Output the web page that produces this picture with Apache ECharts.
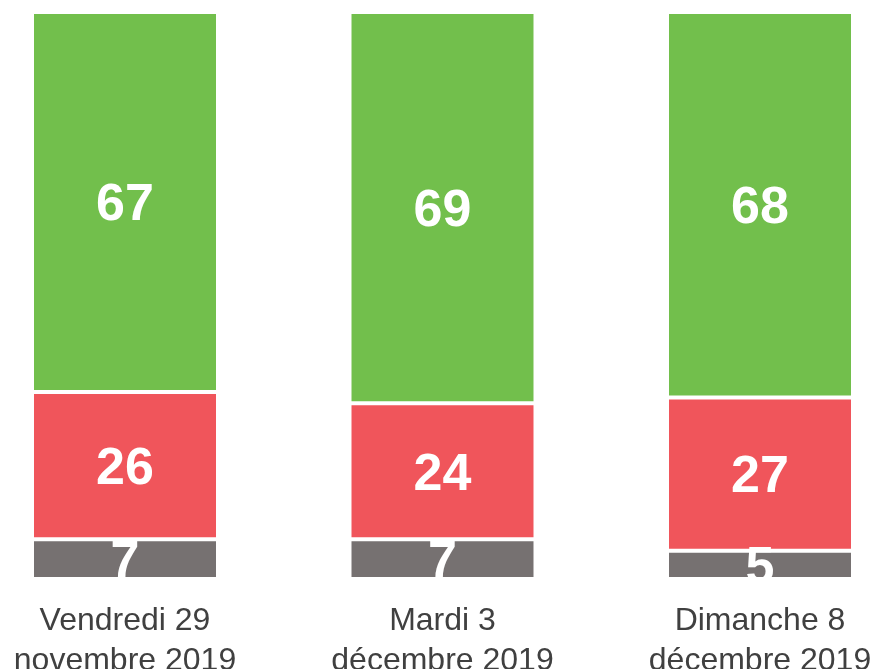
<!DOCTYPE html>
<html>
<head>
<meta charset="utf-8">
<script src="https://cdn.jsdelivr.net/npm/echarts@6/dist/echarts.min.js"></script>
<style>
  html, body { margin: 0; padding: 0; background: #fff; }
  #chart { width: 875px; height: 669px; }
</style>
</head>
<body>
<div id="chart"></div>
<script>
// données
var categories = ['Vendredi 29\nnovembre 2019', 'Mardi 3\ndécembre 2019', 'Dimanche 8\ndécembre 2019'];
var gris = [7, 7, 5];
var rouge = [26, 24, 27];
var vert = [67, 69, 68];

var chart = echarts.init(document.getElementById('chart'));

// style commun des barres empilées
function serie(nom, data, couleur) {
  return {
    name: nom,
    type: 'bar',
    stack: 'total',
    barWidth: 186,
    data: data,
    itemStyle: {
      color: couleur,
      borderColor: '#ffffff',
      borderWidth: 2
    },
    label: {
      show: true,
      position: 'inside',
      offset: [0, 4],
      color: '#ffffff',
      fontSize: 52,
      fontWeight: 'bold',
      fontFamily: 'Liberation Sans, Arial, sans-serif'
    }
  };
}

var option = {
  animation: false,
  backgroundColor: '#ffffff',
  grid: {
    left: 125,
    right: 115,
    top: 12,
    bottom: 90,
    outerBoundsMode: 'none'
  },
  xAxis: {
    type: 'category',
    boundaryGap: false,
    data: categories,
    axisLine: { show: false },
    axisTick: { show: false },
    axisLabel: {
      interval: 0,
      margin: 22,
      fontSize: 32,
      lineHeight: 40,
      color: '#404040',
      fontFamily: 'Liberation Sans, Arial, sans-serif'
    }
  },
  yAxis: {
    type: 'value',
    min: 0,
    max: 100,
    show: false
  },
  series: [
    serie('gris', gris, '#767171'),
    serie('rouge', rouge, '#F0555B'),
    serie('vert', vert, '#72BF4C')
  ]
};
chart.setOption(option);
</script>
</body>
</html>
